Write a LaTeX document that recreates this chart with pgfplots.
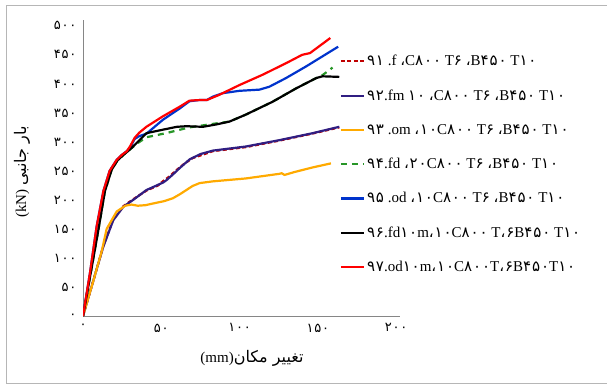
\documentclass[border=0pt]{standalone}
\usepackage{pgfplots}
\pgfplotsset{compat=1.18}
\usepackage{fontspec}
\setmainfont{Liberation Serif}
\newfontfamily\fa[Script=Arabic]{DejaVu Sans}
\newfontfamily\fd[Script=Arabic,LetterSpace=6]{DejaVu Sans}
\TeXXeTstate=1
\newcommand\p[1]{{\fd #1}}
\definecolor{cf}{RGB}{192,0,0}
\definecolor{cfm}{RGB}{48,30,130}
\definecolor{com}{RGB}{255,170,0}
\definecolor{cfd}{RGB}{40,150,40}
\definecolor{cod}{RGB}{0,51,204}
\definecolor{cred}{RGB}{255,0,0}
\definecolor{axgray}{RGB}{134,134,134}
\begin{document}
\begin{tikzpicture}[x=1pt,y=1pt]
\path[use as bounding box] (0,0) rectangle (607,-385);
\draw[axgray!60, line width=1pt] (6,-6) rectangle (640,-383);
\begin{axis}[
  at={(83pt,-316pt)}, anchor=south west, scale only axis,
  width=317pt, height=296pt,
  xmin=0, xmax=202.5, ymin=0, ymax=510,
  axis x line=bottom, axis y line=left,
  axis line style={axgray, line width=0.8pt, -},
  tick style={draw=none},
  xtick={0,50,100,150,200},
  xticklabels={\p{۰},\p{۵۰},\p{۱۰۰},\p{۱۵۰},\p{۲۰۰}},
  ytick={0,50,100,150,200,250,300,350,400,450,500},
  yticklabels={\p{۰},\p{۵۰},\p{۱۰۰},\p{۱۵۰},\p{۲۰۰},\p{۲۵۰},\p{۳۰۰},\p{۳۵۰},\p{۴۰۰},\p{۴۵۰},\p{۵۰۰}},
  tick label style={font=\fontsize{13}{14}\selectfont},
  xticklabel style={yshift=-2pt},
  yticklabel style={xshift=-1pt},
  legend style={at={(rel axis cs:0.80,0.895)}, anchor=north west, draw=none, fill=none,
    font=\fontsize{15}{17}\selectfont, row sep=18.4pt},
  legend cell align=left,
  legend image code/.code={\draw[#1] (0pt,0pt) -- (23pt,0pt);},
  every axis plot/.append style={line width=2.2pt, line join=round},
]
\addplot[cf, dash pattern=on 4pt off 2.5pt] coordinates {(0,0) (6.5,60) (12.9,120) (19.3,166) (25.7,189) (32,201) (40.5,216) (48,225) (51,232) (55,240) (60,252) (65,263) (70,272) (83,284) (104,291) (125,302) (146,314) (163.7,325)};
\addlegendentry{\p{۹۱} .f \p{،}C\p{۸۰۰} T\p{۶} \p{،}B\p{۴۵۰} T\p{۱۰}}
\addplot[cfm] coordinates {(0,0) (6.5,60) (12.9,119) (19.3,165) (25.7,188) (32,200) (40.5,217) (51.2,230) (53.3,234) (57.5,244) (61.8,255) (68.2,270) (75,279) (83,285) (104,292) (125.5,303) (146.7,315) (163.7,326)};
\addlegendentry{\p{۹۲}.fm \p{۱۰} \p{،}C\p{۸۰۰} T\p{۶} \p{،}B\p{۴۵۰} T\p{۱۰}}
\addplot[com] coordinates {(0,0) (6,55) (12,112) (15.1,150) (21.5,180) (27,190) (31,192) (35,190) (40,191) (45,194) (52,198) (57.5,203) (62,210) (66,217) (70,224) (74.5,229) (83,232) (104,237) (125.5,245) (127,246) (128.7,243) (135,248) (146.7,256) (158.4,263)};
\addlegendentry{\p{۹۳} .om \p{۱۰}\p{،}C\p{۸۰۰} T\p{۶} \p{،}B\p{۴۵۰} T\p{۱۰}}
\addplot[cfd, dash pattern=on 6pt off 5pt] coordinates {(0,0) (5,75) (9.8,148) (14,215) (18.3,252) (22,268) (26,278) (30,287) (35,298) (40.5,308) (53,315) (68,325) (83,331) (93.6,335) (104,347) (121,369) (136,392) (149,410) (153,415) (159.4,428)};
\addlegendentry{\p{۹۴}.fd \p{۲۰}\p{،}C\p{۸۰۰} T\p{۶} \p{،}B\p{۴۵۰} T\p{۱۰}}
\addplot[cod] coordinates {(0,0) (4.5,75) (8.7,154) (13,215) (17,250) (21.5,269) (25,278) (28,284) (30,290) (33,305) (36,310) (40.5,314) (51,338) (62,358) (68,370) (74,372) (79,372) (83,378) (89.4,384) (100,388) (112.7,390) (119,395) (129.7,410) (142.5,430) (163,464)};
\addlegendentry{\p{۹۵} .od \p{۱۰}\p{،}C\p{۸۰۰} T\p{۶} \p{،}B\p{۴۵۰} T\p{۱۰}}
\addplot[black] coordinates {(0,0) (5,75) (9.8,148) (14,215) (18.3,252) (22,268) (26,278) (30,287) (35,300) (40.5,315) (51,321) (60,326) (66,327) (76.6,326) (85,330) (93.6,335) (104,347) (121,369) (136,392) (149,410) (153,413) (163.7,412)};
\addlegendentry{\p{۹۶}.fd\p{۱۰}m\p{۱۰}\p{،}C\p{۸۰۰} T\p{۶}\p{،}B\p{۴۵۰} T\p{۱۰}}
\addplot[cred] coordinates {(0,0) (4.5,75) (8.7,154) (13,215) (17,250) (21.5,269) (25,278) (28,284) (30,292) (33,307) (36,316) (40.5,326) (51,344) (62,361) (68,371) (74,372) (79,372) (87,381) (100,398) (115,416) (130,436) (140,450) (145,453) (158,479)};
\addlegendentry{\p{۹۷}.od\p{۱۰}m\p{۱۰}\p{،}C\p{۸۰۰}T\p{۶}\p{،}B\p{۴۵۰}T\p{۱۰}}
\end{axis}
\node[font=\fontsize{15}{17}\selectfont] at (252,-358) {(mm)\beginR{\fa\fontsize{16}{18}\selectfont تغییر مکان}\endR};
\node[font=\fontsize{15}{17}\selectfont, rotate=90] at (22,-172) {(kN) \beginR{\fa\fontsize{16}{18}\selectfont بار جانبی}\endR};
\end{tikzpicture}
\end{document}
